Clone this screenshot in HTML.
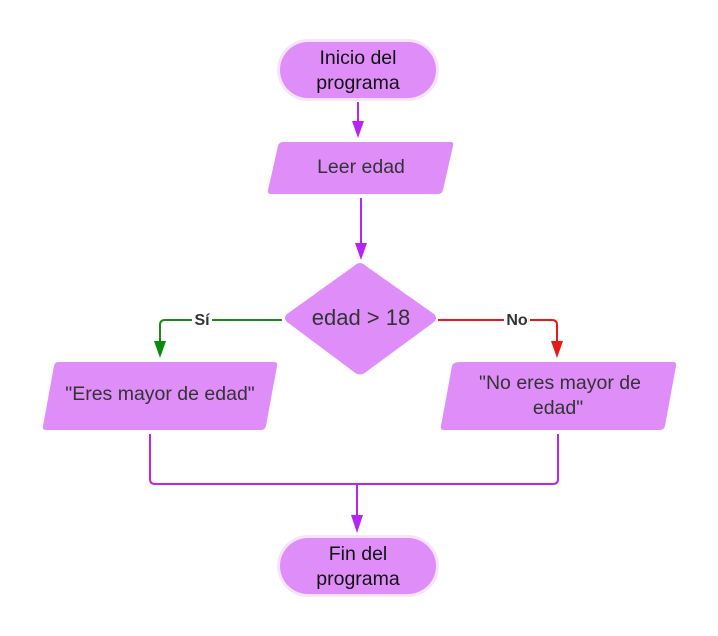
<!DOCTYPE html>
<html><head><style>body{margin:0;background:#fff}svg{display:block}</style></head><body>
<svg width="718" height="636" viewBox="0 0 718 636" xmlns="http://www.w3.org/2000/svg" font-family="Liberation Sans, sans-serif">
<g fill="#df8ef9">
<rect x="277" y="39" width="162" height="62" rx="31" fill="#f6e4fd"/>
<rect x="280" y="42" width="156" height="56" rx="28"/>
<path d="M283,142 L451,142 Q454,142 453,146 L443,190 Q442,194 438,194 L271,194 Q267,194 268,190 L278,146 Q279,142 283,142z"/>
<path d="M360,263 Q363,263 366,266 L434,314 Q438,318 434,322 L366,372 Q360,377 354,372 L287,322 Q283,318 287,314 L354,266 Q357,263 360,263z"/>
<path d="M58,362 L274,362 Q278,362 277,366 L266,426 Q265,430 261,430 L46,430 Q42,430 43,426 L54,366 Q55,362 58,362z"/>
<path d="M460,362 L673,362 Q677,362 676,366 L665,426 Q664,430 660,430 L444,430 Q440,430 441,426 L452,366 Q453,362 460,362z"/>
<rect x="277" y="535" width="162" height="62" rx="31" fill="#f6e4fd"/>
<rect x="280" y="538" width="156" height="56" rx="28"/>
</g>
<g stroke="#b526f2" stroke-width="2" fill="none">
<path d="M358,102 V122"/>
<path d="M361,198 V244"/>
<path d="M150,434 V479 Q150,484 155,484 H553 Q558,484 558,479 V434"/>
<path d="M357,484 V516"/>
</g>
<g fill="#b526f2">
<path d="M352,121 L364,121 L358,138z"/>
<path d="M355,243 L367,243 L361,260z"/>
<path d="M351,515 L363,515 L357,533z"/>
</g>
<path d="M282,320 H165 Q160,320 160,325 V342" stroke="#1a8a1a" stroke-width="2" fill="none"/>
<path d="M154,341 L166,341 L160,358z" fill="#0b8a10"/>
<path d="M438,320 H552 Q557,320 557,325 V342" stroke="#e81818" stroke-width="2" fill="none"/>
<path d="M551,341 L563,341 L557,358z" fill="#e81818"/>
<rect x="192" y="310" width="20" height="18" fill="#fff"/>
<rect x="504" y="310" width="26" height="18" fill="#fff"/>
<g font-size="16" font-weight="bold" fill="#333" text-anchor="middle">
<text x="202" y="325">Sí</text>
<text x="517" y="325">No</text>
</g>
<g font-size="19.5" fill="#111" text-anchor="middle">
<text x="358" y="64">Inicio del</text>
<text x="358" y="89">programa</text>
<text x="361" y="173" fill="#333">Leer edad</text>
<text x="361" y="325" font-size="22" fill="#333">edad &gt; 18</text>
<text x="160" y="400" fill="#333">"Eres mayor de edad"</text>
<text x="560" y="389" fill="#333">"No eres mayor de</text>
<text x="558" y="414" fill="#333">edad"</text>
<text x="358" y="560">Fin del</text>
<text x="358" y="585">programa</text>
</g>
</svg>
</body></html>
